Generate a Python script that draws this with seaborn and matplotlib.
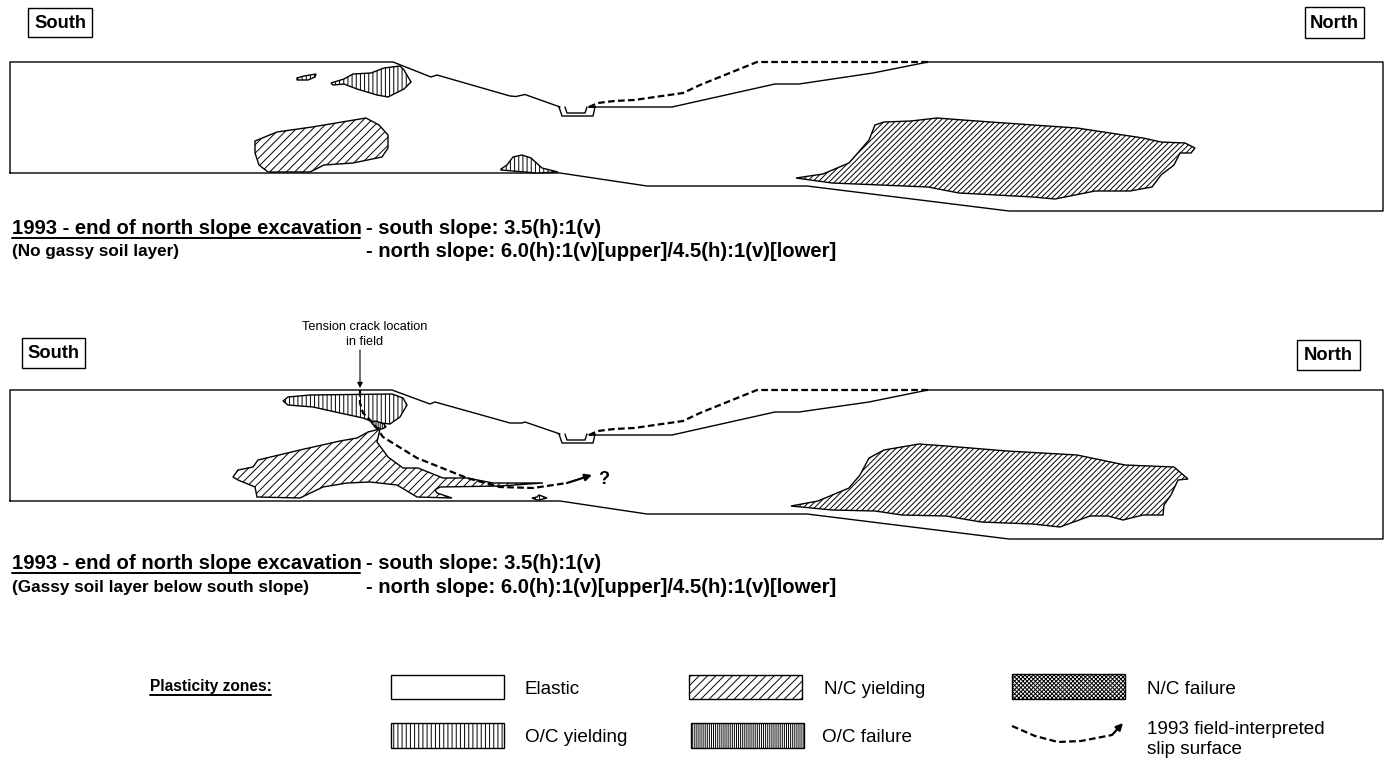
import matplotlib
matplotlib.use('Agg')
import matplotlib.pyplot as plt
from matplotlib.patches import Rectangle
import seaborn as sns

sns.set_style('white')
plt.rcParams['font.family'] = ['Liberation Sans', 'DejaVu Sans']
plt.rcParams['hatch.linewidth'] = 0.7
plt.rcParams['text.color'] = 'black'

# section outlines in pixels
top_x = [10, 10, 393, 431, 437, 510, 516, 525, 560, 559, 562, 593, 595, 589, 672, 775, 799, 873, 928, 1383, 1383, 1009, 807, 647, 560, 10]
top_y = [173, 62, 62, 77, 75, 96, 96.5, 94.5, 107, 107, 116, 116, 107, 107, 107, 84, 84, 73, 62, 62, 211, 211, 186, 186, 173, 173]
low_x = [10, 10, 392, 430, 435, 510, 522, 525, 560, 559, 562, 593, 595, 589, 672, 775, 799, 869, 928, 1383, 1383, 1009, 807, 647, 560, 10]
low_y = [501, 390, 390, 404, 402, 423, 423, 422, 434, 434, 443, 443, 434, 435, 435, 412, 412, 402, 390, 390, 539, 539, 514, 514, 501, 501]

ditch_x = [565, 567, 585, 587]
ditch_top_y = [107, 113, 113, 107]
ditch_low_y = [434, 440, 440, 434]

dash_top_x = [589, 598, 614, 634, 683, 700, 757, 928]
dash_top_y = [107, 103, 101, 100, 93, 85, 62, 62]
dash_low_y = [435, 431, 429, 428, 421, 413, 390, 390]

# upper section zones
z1_x = [297, 304, 316, 315, 308, 297]
z1_y = [78, 76, 74, 77, 80, 80]
z2_x = [331, 344, 353, 371, 384, 400, 404, 411, 404, 388, 377, 357, 344, 333]
z2_y = [83, 79, 74, 73, 68, 66, 70, 82, 89, 97, 95, 89, 84, 85]
z3_x = [255, 277, 312, 366, 379, 388, 388, 382, 353, 324, 310, 268, 259, 255]
z3_y = [141, 132, 127, 118, 125, 135, 148, 157, 163, 165, 172, 172, 165, 153]
z4_x = [501, 507, 513, 522, 531, 542, 558, 536, 501]
z4_y = [169, 165, 157, 155, 158, 168, 172, 173, 170]
z5_x = [796, 823, 849, 869, 875, 884, 911, 937, 963, 1033, 1077, 1143, 1161, 1185, 1195, 1191, 1180, 1174, 1161, 1152, 1130, 1095, 1055, 1033, 959, 928, 832]
z5_y = [178, 174, 163, 140, 125, 122, 121, 118, 120, 125, 128, 138, 142, 143, 148, 153, 153, 165, 175, 187, 191, 191, 199, 197, 193, 187, 183]

# lower section zones
z6_x = [283, 288, 310, 392, 403, 407, 400, 390, 373, 363, 340, 313, 288]
z6_y = [401, 397, 395, 394, 398, 405, 417, 424, 422, 418, 413, 407, 405]
z7_x = [233, 238, 253, 258, 300, 340, 357, 368, 380, 377, 388, 403, 418, 443, 467, 493, 543, 500, 440, 435, 437, 452, 417, 397, 370, 347, 323, 300, 257, 255, 238]
z7_y = [477, 470, 467, 460, 450, 441, 438, 432, 429, 442, 457, 468, 468, 478, 478, 483, 483, 486, 487, 490, 493, 498, 497, 485, 482, 483, 487, 498, 497, 487, 480]
z8_x = [371, 376, 384, 386, 382, 375]
z8_y = [422, 421, 424, 427, 429, 427]
z9_x = [532, 537, 539, 547, 539, 537]
z9_y = [498, 497, 495, 498, 500, 500]
z10_x = [791, 818, 849, 860, 869, 884, 919, 946, 1007, 1077, 1125, 1174, 1188, 1178, 1171, 1164, 1163, 1143, 1123, 1108, 1090, 1060, 1033, 981, 946, 902, 875, 832]
z10_y = [506, 501, 488, 475, 458, 450, 444, 446, 451, 455, 465, 467, 479, 480, 495, 505, 515, 515, 520, 516, 516, 527, 524, 522, 516, 515, 511, 510]

slip_x = [360, 360, 363, 373, 383, 417, 467, 500, 533, 567, 592]
slip_y = [390, 403, 413, 423, 437, 458, 478, 487, 488, 483, 475]
key_slip_x = [1012, 1035, 1058, 1081, 1112, 1123]
key_slip_y = [726, 736, 742, 741, 735, 723]

NC_FINE = '/' * 6
NC_WIDE = '/' * 4
OC = '||||'
DASH = (0, (3, 1.5))


def outline(ax, xs, ys, lw=1.0, **kw):
    sns.lineplot(x=xs, y=ys, sort=False, estimator=None, errorbar=None,
                 color='black', linewidth=lw, ax=ax, **kw)


def zone(ax, xs, ys, hatch):
    ax.fill(xs, ys, facecolor='white', edgecolor='black', hatch=hatch, linewidth=1.0, zorder=3)


def box(ax, x0, y0, x1, y1, hatch=None):
    ax.add_patch(Rectangle((x0, y0), x1 - x0, y1 - y0, facecolor='white',
                           edgecolor='black', hatch=hatch, linewidth=1.0))


def slip(ax, xs, ys):
    outline(ax, xs[:-1], ys[:-1], lw=1.6, linestyle=DASH, zorder=5)
    ax.annotate('', xy=(xs[-1], ys[-1]), xytext=(xs[-2], ys[-2]),
                arrowprops=dict(arrowstyle='-|>', color='black', lw=1.6,
                                mutation_scale=10, shrinkA=0, shrinkB=0), zorder=5)


fig, ax = plt.subplots(figsize=(13.87, 7.63), dpi=100)
fig.subplots_adjust(0, 0, 1, 1)
ax.set_xlim(0, 1387)
ax.set_ylim(763, 0)
ax.axis('off')

outline(ax, top_x, top_y)
outline(ax, low_x, low_y)
outline(ax, ditch_x, ditch_top_y)
outline(ax, ditch_x, ditch_low_y)
outline(ax, dash_top_x, dash_top_y, lw=1.6, linestyle=DASH)
outline(ax, dash_top_x, dash_low_y, lw=1.6, linestyle=DASH)

zone(ax, z1_x, z1_y, OC)
zone(ax, z2_x, z2_y, OC)
zone(ax, z3_x, z3_y, NC_WIDE)
zone(ax, z4_x, z4_y, OC)
zone(ax, z5_x, z5_y, NC_FINE)
zone(ax, z6_x, z6_y, OC)
zone(ax, z7_x, z7_y, NC_WIDE)
zone(ax, z8_x, z8_y, '|' * 8)
zone(ax, z9_x, z9_y, OC)
zone(ax, z10_x, z10_y, NC_FINE)

slip(ax, slip_x, slip_y)
ax.text(598, 479, '?', fontsize=13, fontweight='bold', va='center')

# tension crack note
ax.annotate('', xy=(360, 388), xytext=(360, 350),
            arrowprops=dict(arrowstyle='-|>', color='black', lw=0.8, mutation_scale=8, shrinkA=0, shrinkB=0))
ax.text(365, 327, 'Tension crack location', fontsize=9.2, ha='center', va='center')
ax.text(365, 342, 'in field', fontsize=9.2, ha='center', va='center')

# South / North labels
for x0, y0, x1, y1, name in [(28, 8, 92, 37, 'South'), (1305, 7, 1364, 38, 'North'),
                             (22, 338, 85, 368, 'South'), (1297, 340, 1360, 370, 'North')]:
    box(ax, x0, y0, x1, y1)
    ax.text((x0 + x1) / 2, (y0 + y1) / 2 + 1, name, fontsize=13.2, fontweight='bold', ha='center', va='center')

# captions
for y1, y2, sub in [(228.5, 251.5, '(No gassy soil layer)'), (563.5, 587.5, '(Gassy soil layer below south slope)')]:
    ax.text(12, y1, '1993 - end of north slope excavation', fontsize=14.6, fontweight='bold', va='center')
    ax.plot([12, 360], [y1 + 9, y1 + 9], color='black', lw=1.4)
    ax.text(366, y1, '- south slope: 3.5(h):1(v)', fontsize=14.6, fontweight='bold', va='center')
    ax.text(366, y2, '- north slope: 6.0(h):1(v)[upper]/4.5(h):1(v)[lower]', fontsize=14.6, fontweight='bold', va='center')
    ax.text(12, y2, sub, fontsize=12.3, fontweight='bold', va='center')

# key
ax.text(150, 686, 'Plasticity zones:', fontsize=11.2, fontweight='bold', va='center')
ax.plot([150, 271], [695, 695], color='black', lw=1.4)
box(ax, 391, 675, 504, 699)
box(ax, 689, 675, 802, 699, NC_WIDE)
box(ax, 1012, 674, 1125, 699, 'x' * 8)
box(ax, 391, 723, 504, 748, OC)
box(ax, 691, 723, 804, 748, '|' * 8)
ax.text(525, 689, 'Elastic', fontsize=13.6, va='center')
ax.text(824, 689, 'N/C yielding', fontsize=13.6, va='center')
ax.text(1147, 689, 'N/C failure', fontsize=13.6, va='center')
ax.text(525, 738, 'O/C yielding', fontsize=13.6, va='center')
ax.text(822, 738, 'O/C failure', fontsize=13.6, va='center')
ax.text(1147, 729, '1993 field-interpreted', fontsize=13.6, va='center')
ax.text(1147, 750, 'slip surface', fontsize=13.6, va='center')
slip(ax, key_slip_x, key_slip_y)

fig.savefig('out.png', dpi=100)
